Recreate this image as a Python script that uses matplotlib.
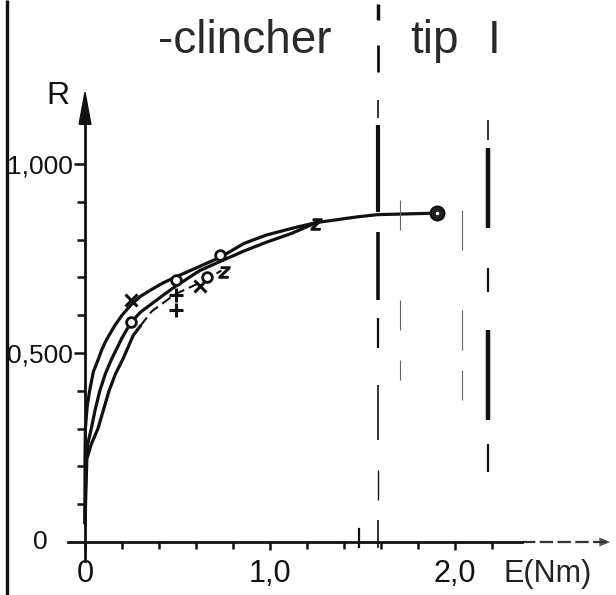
import matplotlib
matplotlib.use("Agg")
import matplotlib.pyplot as plt
from matplotlib.patches import Polygon
from matplotlib.lines import Line2D

# Energy E (Nm) and ratio R along the three fitted curves
upper_E = [0.0, 0.0, 0.002, 0.012, 0.025, 0.045, 0.07, 0.09, 0.115, 0.16, 0.20, 0.25, 0.30, 0.36, 0.42, 0.485, 0.61, 0.73, 0.86, 0.98, 1.12, 1.25, 1.47, 1.58, 1.90]
upper_R = [0.05, 0.22, 0.30, 0.36, 0.40, 0.45, 0.481, 0.508, 0.534, 0.572, 0.600, 0.628, 0.650, 0.668, 0.685, 0.700, 0.727, 0.753, 0.790, 0.812, 0.830, 0.845, 0.860, 0.866, 0.870]

middle_E = [0.0, 0.005, 0.015, 0.034, 0.055, 0.08, 0.11, 0.14, 0.20, 0.25, 0.30, 0.36, 0.42, 0.485, 0.62, 0.73, 0.86, 0.98, 1.12, 1.25]
middle_R = [0.05, 0.22, 0.26, 0.30, 0.35, 0.40, 0.445, 0.48, 0.54, 0.582, 0.608, 0.630, 0.652, 0.675, 0.718, 0.742, 0.770, 0.793, 0.817, 0.845]

lower_E = [0.0, 0.01, 0.035, 0.07, 0.10, 0.13, 0.165, 0.205, 0.26, 0.30]
lower_R = [0.05, 0.22, 0.26, 0.30, 0.35, 0.40, 0.445, 0.484, 0.546, 0.572]

lower_tail_E = [0.30, 0.36, 0.485, 0.63, 0.737]
lower_tail_R = [0.572, 0.610, 0.655, 0.688, 0.718]

# Measured points
cross_E, cross_R = [0.25, 0.62], [0.640, 0.676]
ring_E, ring_R = [0.25, 0.49, 0.73, 0.66], [0.582, 0.693, 0.759, 0.700]
plus_E, plus_R = [0.49, 0.49], [0.653, 0.614]
zed_E, zed_R = [0.75, 1.25], [0.714, 0.842]
end_E, end_R = [1.90], [0.870]

# Axes ticks
x_major = [0.0, 1.0, 2.0]
x_major_labels = ["0", "1,0", "2,0"]
x_minor = [0.2, 0.4, 0.6, 0.8, 1.2, 1.4, 1.6, 1.8, 2.2]
y_major = [0.5, 1.0]
y_major_labels = ["0,500", "1,000"]
y_minor = [0.1, 0.2, 0.3, 0.4, 0.6, 0.7, 0.8, 0.9]

plt.rcParams['font.family'] = ['Liberation Sans', 'DejaVu Sans']

W, H = 616, 595
fig = plt.figure(figsize=(W / 100, H / 100), dpi=100)
fig.patch.set_facecolor('white')
ax = fig.add_axes([0, 0, 1, 1])
ax.set_facecolor('none')
ax.set_xlim(-85 / 185, 531 / 185)
ax.set_ylim(-53 / 378, 542 / 378)

ink = '#111111'
for side in ('top', 'right'):
    ax.spines[side].set_visible(False)
ax.spines['left'].set_position(('data', 0))
ax.spines['bottom'].set_position(('data', 0))
ax.spines['left'].set_bounds(-0.05, 1.14)
ax.spines['bottom'].set_bounds(-0.092, 2.36)
for side in ('left', 'bottom'):
    ax.spines[side].set_linewidth(2.0)
    ax.spines[side].set_color(ink)

ax.set_xticks(x_major)
ax.set_xticklabels(x_major_labels)
ax.set_xticks(x_minor, minor=True)
ax.set_yticks(y_major)
ax.set_yticklabels(y_major_labels)
ax.set_yticks(y_minor, minor=True)
ax.tick_params(axis='x', which='major', direction='out', length=6, width=1.8, color=ink,
               labelsize=22, pad=6, labelcolor=ink)
ax.tick_params(axis='x', which='minor', direction='out', length=5, width=1.8, color=ink)
ax.tick_params(axis='y', which='major', direction='out', length=8, width=1.8, color=ink,
               labelsize=19, pad=1, labelcolor=ink)
ax.tick_params(axis='y', which='minor', direction='out', length=6, width=1.8, color=ink)

# arrow head on the R axis and the far end of the E axis
ax.add_patch(Polygon([(0, 1.19), (-0.032, 1.105), (0.032, 1.105)], closed=True,
                     facecolor=ink, edgecolor=ink, lw=1))
ax.plot([2.36, 2.82], [0, 0], color='#333333', lw=1.6, ls=(0, (6, 2)), solid_capstyle='butt')
ax.add_patch(Polygon([(2.84, 0.0), (2.78, 0.012), (2.78, -0.012)], closed=True,
                     facecolor='#555555', edgecolor='none'))
ax.plot([1.48, 1.48], [-0.012, 0.035], color=ink, lw=1.6)

ax.text(-0.24, 0.0, "0", fontsize=19, ha='center', va='center', color=ink)
ax.text(-0.21, 1.158, "R", fontsize=23, ha='left', va='baseline', color=ink)
ax.text(2.26, -0.105, "E(Nm)", fontsize=22, ha='left', va='baseline', color='#222222')

# fitted curves
kw = dict(color=ink, lw=2.3, solid_capstyle='round', solid_joinstyle='round')
ax.plot(upper_E, upper_R, **kw)
ax.plot(middle_E, middle_R, **kw)
ax.plot(lower_E, lower_R, **kw)
ax.plot(lower_tail_E, lower_tail_R, color=ink, lw=1.5, ls=(0, (5, 2.5)))

# measured points
ax.plot(cross_E, cross_R, ls='none', marker='x', ms=8, mew=2.2, color=ink)
ax.plot(ring_E, ring_R, ls='none', marker='o', ms=7, mew=2.0, mfc='white', mec=ink)
ax.plot(plus_E, plus_R, ls='none', marker='+', ms=10, mew=2.2, color=ink)
ax.plot(zed_E, zed_R, ls='none', marker='$z$', ms=8, color=ink)
ax.plot(end_E, end_R, ls='none', marker='o', ms=10, mew=1.5, mfc='#222222', mec=ink)
ax.plot(end_E, end_R, ls='none', marker='o', ms=2.5, mew=0, mfc='white')

# heading
fig.text(158 / W, 1 - 53 / H, "-clincher", fontsize=33, ha='left', va='baseline', color='#2a2a2a')
fig.text(410 / W, 1 - 53 / H, "tip", fontsize=33, ha='left', va='baseline', color='#2a2a2a')
fig.text(488 / W, 1 - 53 / H, "I", fontsize=33, ha='left', va='baseline', color='#2a2a2a')


def vline_px(x, y0, y1, lw, color=ink):
    fig.add_artist(Line2D([x / W, x / W], [1 - y0 / H, 1 - y1 / H], transform=fig.transFigure,
                          color=color, lw=lw, solid_capstyle='butt'))


# page border rule on the left
vline_px(7, 0, H, 2.4)

# fold marks crossing the sheet
for y0, y1, lw in [(4, 20, 2.5), (45, 72, 2.0), (100, 118, 1.2), (125, 212, 3.0), (232, 300, 2.6),
                   (318, 348, 1.6), (385, 440, 1.2), (470, 500, 1.0), (520, 548, 1.2)]:
    vline_px(378, y0, y1, lw)
for y0, y1, lw in [(120, 140, 1.2), (148, 228, 3.2), (268, 292, 1.6), (330, 420, 3.2), (444, 472, 1.6)]:
    vline_px(488, y0, y1, lw)
for y0, y1 in [(200, 230), (300, 330), (360, 380)]:
    vline_px(400, y0, y1, 0.8, '#666666')
    vline_px(462, y0 + 10, y1 + 20, 0.8, '#666666')

fig.savefig("out.png", dpi=100, facecolor='white')
